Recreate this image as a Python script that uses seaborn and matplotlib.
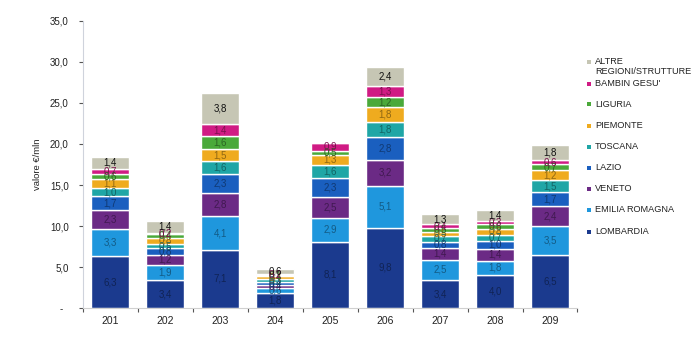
import numpy as np
import pandas as pd
import matplotlib
matplotlib.use("Agg")
import matplotlib.pyplot as plt
from matplotlib.colors import to_rgb
from matplotlib.patches import Rectangle
from matplotlib.ticker import FixedLocator
import seaborn as sns

# Categories (x axis)
categories = ["201", "202", "203", "204", "205", "206", "207", "208", "209"]

# Values in €/mln per region, stacked bottom to top
lombardia = [6.3, 3.4, 7.1, 1.8, 8.1, 9.8, 3.4, 4.0, 6.5]
emilia_romagna = [3.3, 1.9, 4.1, 0.6, 2.9, 5.1, 2.5, 1.8, 3.5]
veneto = [2.3, 1.2, 2.8, 0.4, 2.5, 3.2, 1.4, 1.4, 2.4]
lazio = [1.7, 0.8, 2.3, 0.4, 2.3, 2.8, 0.8, 1.0, 1.7]
toscana = [1.0, 0.5, 1.6, 0.3, 1.6, 1.8, 0.7, 0.7, 1.5]
piemonte = [1.1, 0.8, 1.5, 0.4, 1.3, 1.8, 0.5, 0.8, 1.2]
liguria = [0.6, 0.4, 1.6, 0.1, 0.5, 1.2, 0.5, 0.6, 0.7]
bambin_gesu = [0.7, 0.2, 1.4, 0.2, 0.9, 1.3, 0.4, 0.3, 0.6]
altre = [1.4, 1.4, 3.8, 0.6, 0.0, 2.4, 1.3, 1.4, 1.8]

series_names = ["LOMBARDIA", "EMILIA ROMAGNA", "VENETO", "LAZIO", "TOSCANA",
                "PIEMONTE", "LIGURIA", "BAMBIN GESU'", "ALTRE\nREGIONI/STRUTTURE"]
series_values = [lombardia, emilia_romagna, veneto, lazio, toscana,
                 piemonte, liguria, bambin_gesu, altre]
series_colors = ["#1b3a8e", "#1f97dd", "#6b2a85", "#1a5fbf", "#1fa6a6",
                 "#efab1f", "#4aa93a", "#d01b84", "#c6c6b4"]

y_ticks = [0, 5, 10, 15, 20, 25, 30, 35]
y_tick_labels = ["-  ", "5,0", "10,0", "15,0", "20,0", "25,0", "30,0", "35,0"]

sns.set_theme(style="white")
plt.rcParams["font.family"] = ["Liberation Sans", "DejaVu Sans"]

fig = plt.figure(figsize=(7, 3.47), dpi=100)
ax = fig.add_axes([0.118, 0.112, 0.707, 0.828])


def label_color(col):
    if col == "#c6c6b4":
        return "#111111"
    return tuple(np.array(to_rgb(col)) * 0.6)


bottom = np.zeros(len(categories))
for name, vals, col in zip(series_names, series_values, series_colors):
    vals = np.asarray(vals, dtype=float)
    df = pd.DataFrame({"cat": categories, "val": vals})
    sns.barplot(data=df, x="cat", y="val", order=categories, color=col,
                saturation=1, width=0.69, bottom=bottom.copy(),
                edgecolor="white", linewidth=1.0, errorbar=None, ax=ax)
    cont = ax.containers[-1]
    labels = [f"{v:.1f}".replace(".", ",") if v > 0 else "" for v in vals]
    ax.bar_label(cont, labels=labels, label_type="center", fontsize=7,
                 color=label_color(col))
    bottom += vals

ax.set_xlim(-0.5, len(categories) - 0.5)
ax.set_ylim(0, 35)
ax.set_yticks(y_ticks)
ax.set_yticklabels(y_tick_labels)
ax.set_xlabel("")
ax.set_ylabel("valore €/mln", fontsize=6.8, color="#222222", labelpad=6)

for s in ["top", "right"]:
    ax.spines[s].set_visible(False)
ax.spines["left"].set_color("#cfd3dc")
ax.spines["bottom"].set_color("#d0d0d0")
ax.spines["left"].set_linewidth(0.8)
ax.spines["bottom"].set_linewidth(0.8)

ax.tick_params(axis="y", which="major", length=3, width=0.8, color="#555555",
               labelsize=7, labelcolor="#222222", pad=7, left=True)
ax.tick_params(axis="x", which="major", length=0, labelsize=7.5,
               labelcolor="#222222", pad=6)
ax.xaxis.set_minor_locator(FixedLocator(np.arange(-0.5, len(categories), 1.0)))
ax.tick_params(axis="x", which="minor", length=3, width=0.8, color="#555555",
               bottom=True)

# Legend drawn at the right side, top entry first
W, H = 700, 347
legend_rows = [
    ("ALTRE", 62, 8, True),
    ("REGIONI/STRUTTURE", 71.5, 8, False),
    ("BAMBIN GESU'", 83.5, 7, True),
    ("LIGURIA", 104.5, 6, True),
    ("PIEMONTE", 125.5, 5, True),
    ("TOSCANA", 146.5, 4, True),
    ("LAZIO", 167.5, 3, True),
    ("VENETO", 188.5, 2, True),
    ("EMILIA ROMAGNA", 210, 1, True),
    ("LOMBARDIA", 231.5, 0, True),
]
for text, ypx, idx, marker in legend_rows:
    fig.text(595 / W, 1 - ypx / H, text, fontsize=6.6, color="#222222",
             ha="left", va="center")
    if marker:
        fig.add_artist(Rectangle(((587) / W, 1 - (ypx + 2) / H), 4 / W, 4 / H,
                                 transform=fig.transFigure,
                                 facecolor=series_colors[idx], edgecolor="none"))

fig.savefig("out.png", dpi=100, facecolor="white")
